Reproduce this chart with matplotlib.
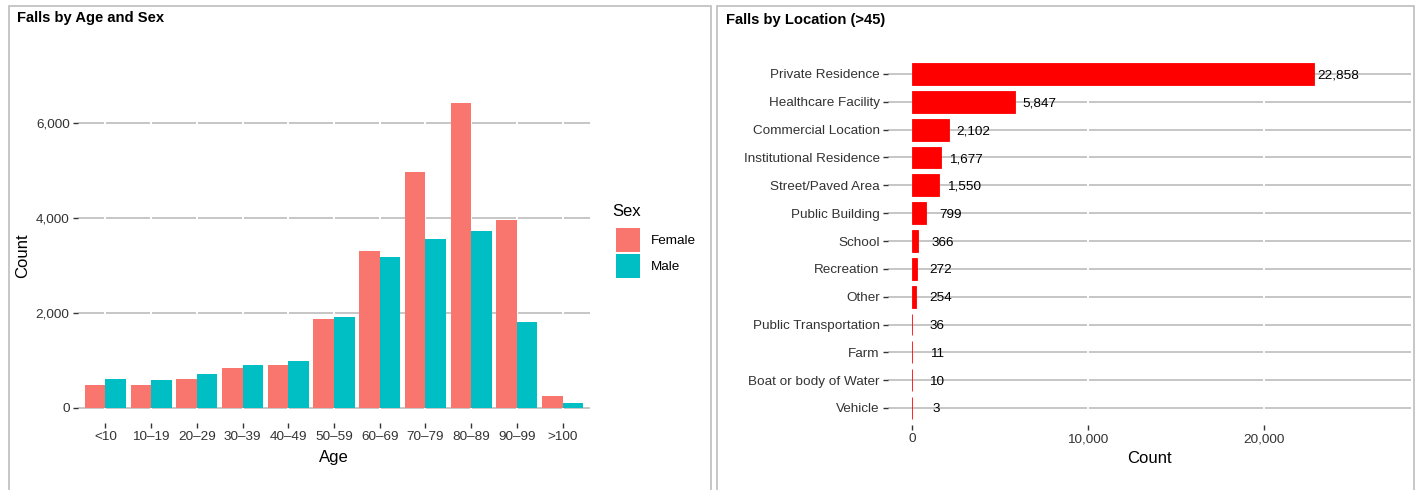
import numpy as np
import matplotlib
matplotlib.use('Agg')
import matplotlib.pyplot as plt
from matplotlib.patches import Rectangle
from matplotlib.ticker import FuncFormatter

plt.rcParams['font.family'] = ['Liberation Sans', 'DejaVu Sans']

# data
ages = ['<10', '10\u201319', '20\u201329', '30\u201339', '40\u201349', '50\u201359',
        '60\u201369', '70\u201379', '80\u201389', '90\u201399', '>100']
female = [480, 480, 600, 840, 900, 1870, 3300, 4960, 6410, 3950, 250]
male = [600, 580, 710, 900, 985, 1910, 3175, 3550, 3720, 1805, 100]

locations = ['Private Residence', 'Healthcare Facility', 'Commercial Location',
             'Institutional Residence', 'Street/Paved Area', 'Public Building',
             'School', 'Recreation', 'Other', 'Public Transportation', 'Farm',
             'Boat or body of Water', 'Vehicle']
loc_counts = [22858, 5847, 2102, 1677, 1550, 799, 366, 272, 254, 36, 11, 10, 3]

W, H = 1424, 490
fig = plt.figure(figsize=(W / 100, H / 100), dpi=100)

grid_col = '#C6C6C6'
txt_col = '#333333'
fmt = FuncFormatter(lambda v, p: f'{v:,.0f}')


def style(ax):
    for s in ax.spines.values():
        s.set_visible(False)
    ax.tick_params(length=3.5, width=1, color=txt_col, labelcolor=txt_col,
                   labelsize=9.7, pad=2.5)
    ax.set_axisbelow(True)


# panel borders
for x0, x1 in [(9, 711), (717, 1414)]:
    fig.patches.append(Rectangle((x0 / W, -0.05), (x1 - x0) / W, 1 - 6 / H + 0.05,
                                 transform=fig.transFigure, fill=False,
                                 ec='#BDBDBD', lw=1.2))

# ---- left panel: falls by age and sex
ax1 = fig.add_axes([78 / W, 1 - 423 / H, 512 / W, 335 / H])
style(ax1)
x = np.arange(len(ages))
bw = 0.45
b_f = ax1.bar(x - bw / 2, female, bw, color='#F8766D', zorder=2, label='Female')
b_m = ax1.bar(x + bw / 2, male, bw, color='#00BFC4', zorder=2, label='Male')
ymax = max(female + male)
ax1.set_ylim(-ymax * 0.05, ymax * 1.05)
ax1.set_xlim(-0.6, len(ages) - 0.4)
ax1.set_xticks(x)
ax1.set_xticklabels(ages)
ax1.set_yticks([0, 2000, 4000, 6000])
ax1.yaxis.set_major_formatter(fmt)
ax1.grid(axis='y', color=grid_col, lw=1.4)
for xv in x:
    ax1.axvline(xv, color='white', lw=1.4, zorder=1)
ax1.set_xlabel('Age', fontsize=12, color='black', labelpad=5)
ax1.set_ylabel('Count', fontsize=12, color='black', labelpad=4)
fig.text(17 / W, 1 - 18 / H, 'Falls by Age and Sex', fontsize=10.6,
         fontweight='bold', va='center', ha='left')
leg = ax1.legend(handles=[b_f, b_m], loc='upper left',
                 bbox_to_anchor=(604 / W, 1 - 216 / H),
                 bbox_transform=fig.transFigure, frameon=False,
                 fontsize=9.7, handlelength=1.75,
                 handleheight=2.4, labelspacing=0.1, handletextpad=0.8)
fig.text(612 / W, 1 - 211 / H, 'Sex', fontsize=12, va='center', ha='left')

# ---- right panel: falls by location
ax2 = fig.add_axes([888 / W, 1 - 424.7 / H, 522.7 / W, 367.4 / H])
style(ax2)
y = np.arange(len(locations))
ax2.barh(y, loc_counts, 0.78, color='#FF0000', ec='#FF0000', lw=0.6, zorder=2)
ax2.set_ylim(len(locations) - 0.4, -0.6)
ax2.set_xlim(-1350, 28350)
ax2.set_yticks(y)
ax2.set_yticklabels(locations)
ax2.set_xticks([0, 10000, 20000])
ax2.xaxis.set_major_formatter(fmt)
ax2.grid(axis='y', color=grid_col, lw=1.4)
for xv in [10000, 20000]:
    ax2.axvline(xv, color='white', lw=1.4, zorder=1)
for yi, v in zip(y, loc_counts):
    ax2.text(v + 1400, yi, f'{v:,}', ha='center', va='center_baseline',
             fontsize=9.7, color='black', zorder=3)
ax2.set_xlabel('Count', fontsize=12, color='black', labelpad=4)
fig.text(726 / W, 1 - 20 / H, 'Falls by Location (>45)', fontsize=10.6,
         fontweight='bold', va='center', ha='left')

fig.savefig('out.png', dpi=100)
